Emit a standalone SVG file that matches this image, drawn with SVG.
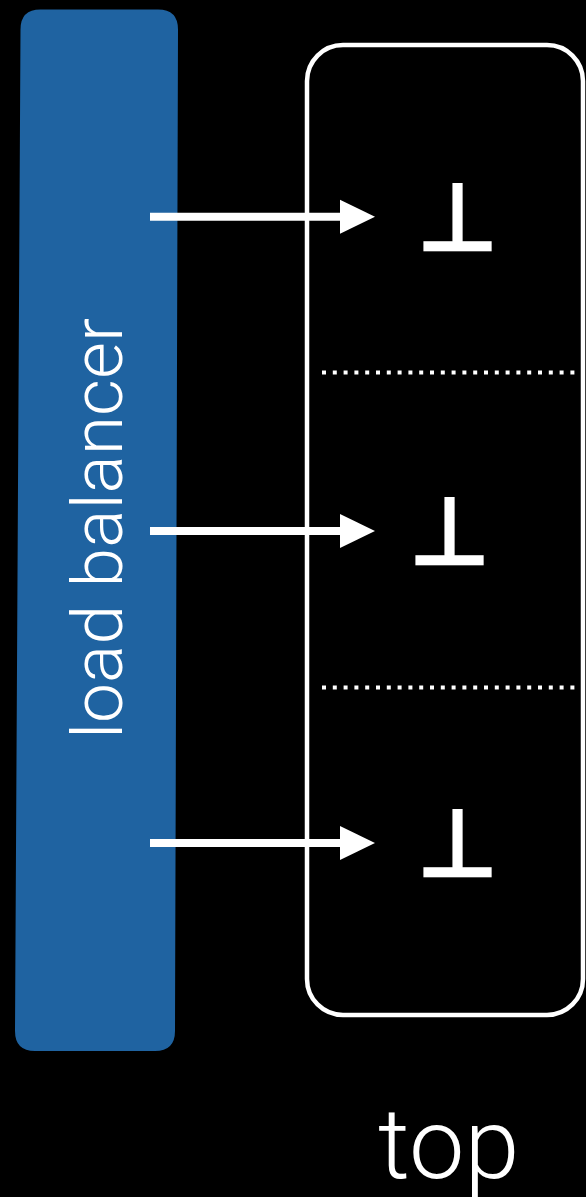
<svg xmlns="http://www.w3.org/2000/svg" width="586" height="1197" viewBox="0 0 586 1197">
  <style>
    .label { fill: #ffffff; font-family: "Roboto", "Liberation Sans", sans-serif; font-weight: 300; }
    .sym { fill: #ffffff; stroke: #ffffff; stroke-width: 4.4; stroke-linejoin: miter; font-family: "DejaVu Sans", sans-serif; font-size: 91px; text-anchor: middle; }
    .divider { stroke: #ffffff; stroke-width: 4; stroke-dasharray: 4 6.8; fill: none; }
    .conn { stroke: #ffffff; stroke-width: 8; fill: none; }
  </style>
  <defs>
    <!-- head starts where the shaft ends; tip sits 35px further right -->
    <marker id="arrowhead" markerUnits="userSpaceOnUse" markerWidth="36" markerHeight="36" refX="0" refY="17" orient="auto" overflow="visible">
      <path d="M0,0 L35,17 L0,34 Z" fill="#ffffff"/>
    </marker>
  </defs>
  <rect width="586" height="1197" fill="#000000"/>

  <g id="load-balancer">
    <path d="M40.5,9.5 L158,9.5 Q178,9.5 178,29.5 L175,1031 Q175,1051 155,1051 L35,1051 Q15,1051 15,1031 L20.5,29.5 Q20.5,9.5 40.5,9.5 Z" fill="#1f63a1"/>
    <text class="label" font-size="70" transform="translate(121.5,739) rotate(-90)" textLength="421" lengthAdjust="spacingAndGlyphs">load balancer</text>
  </g>

  <g id="top">
    <rect x="307" y="45" width="276" height="970" rx="36" fill="none" stroke="#ffffff" stroke-width="4.5"/>
    <line class="divider" x1="322" y1="372.5" x2="575" y2="372.5"/>
    <line class="divider" x1="322" y1="687.5" x2="575" y2="687.5"/>
    <text class="sym" x="457.5" y="248.5">⊥</text>
    <text class="sym" x="449.3" y="562.8">⊥</text>
    <text class="sym" x="457.5" y="875">⊥</text>
    <text class="label" x="378" y="1178.3" font-size="99">top</text>
  </g>

  <g id="connectors">
    <line class="conn" x1="150" y1="216.7" x2="340" y2="216.7" marker-end="url(#arrowhead)"/>
    <line class="conn" x1="150" y1="531" x2="340" y2="531" marker-end="url(#arrowhead)"/>
    <line class="conn" x1="150" y1="843" x2="340" y2="843" marker-end="url(#arrowhead)"/>
  </g>
</svg>
